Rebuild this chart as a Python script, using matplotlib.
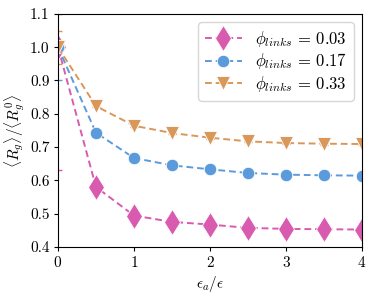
import matplotlib
matplotlib.use("Agg")
import matplotlib.pyplot as plt
import numpy as np

plt.rcParams['mathtext.fontset'] = 'cm'
plt.rcParams['font.family'] = 'serif'
plt.rcParams['font.serif'] = ['cmr10']
plt.rcParams['axes.formatter.use_mathtext'] = True

eps = [0, 0.5, 1, 1.5, 2, 2.5, 3, 3.5, 4]
r_003 = [1.0, 0.58, 0.494, 0.475, 0.467, 0.457, 0.454, 0.453, 0.452]
r_017 = [1.0, 0.743, 0.667, 0.645, 0.633, 0.622, 0.617, 0.615, 0.614]
r_033 = [1.0, 0.823, 0.764, 0.742, 0.728, 0.717, 0.712, 0.710, 0.709]
err_003 = [0.37, 0.005, 0.004, 0.004, 0.004, 0.003, 0.003, 0.003, 0.003]
err_017 = [0.10, 0.004, 0.003, 0.003, 0.003, 0.003, 0.003, 0.003, 0.003]
err_033 = [0.05, 0.004, 0.003, 0.003, 0.003, 0.003, 0.003, 0.003, 0.003]
labels = [r'$\phi_{links}\,=\,0.03$', r'$\phi_{links}\,=\,0.17$', r'$\phi_{links}\,=\,0.33$']
colors = ['#d95bb0', '#5b9bdb', '#d9985a']
markers = ['d', 'o', 'v']
msizes = [13, 9, 9.5]

fig = plt.figure(figsize=(3.74, 2.96), dpi=100)
ax = fig.add_axes([0.155, 0.166, 0.813, 0.787])

for y, e, lab, c, m, ms in zip([r_003, r_017, r_033], [err_003, err_017, err_033], labels, colors, markers, msizes):
    ax.errorbar(eps, y, yerr=e, fmt='none', ecolor=c, capsize=3, elinewidth=1.2)
    ax.plot(eps, y, color=c, ls=(0, (3.5, 2)), marker=m, markersize=ms, lw=1.4,
            label=lab, markeredgecolor='white', markeredgewidth=0.6)

ax.set_xlim(0, 4)
ax.set_ylim(0.4, 1.1)
ax.set_xticks([0, 1, 2, 3, 4])
ax.set_yticks([0.4, 0.5, 0.6, 0.7, 0.8, 0.9, 1.0, 1.1])
ax.set_yticklabels(['0.4', '0.5', '0.6', '0.7', '0.8', '0.9', '1.0', '1.1'])
ax.tick_params(labelsize=11, length=3, pad=3)
ax.set_xlabel(r'$\epsilon_a/\epsilon$', fontsize=11, labelpad=3)
ax.set_ylabel(r'$\langle R_g\rangle/\langle R_g^0\rangle$', fontsize=11, labelpad=2)
ax.legend(loc='upper right', fontsize=12, handlelength=2.2, borderpad=0.4, labelspacing=0.15,
          handletextpad=0.8)

fig.savefig('out.png', dpi=100)
